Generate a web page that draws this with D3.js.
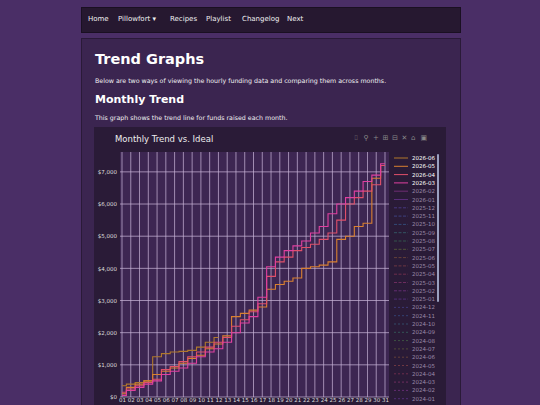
<!DOCTYPE html>
<html><head><meta charset="utf-8">
<script src="https://cdn.jsdelivr.net/npm/d3@7"></script>
<style>
body{margin:0;background:#4a2e66;font-family:"DejaVu Sans",sans-serif;color:#f0f0f0;width:540px;height:405px;overflow:hidden;position:relative}
.nav{position:absolute;left:81px;top:7px;width:378px;height:24px;background:#261830;border:1px solid #1a1022;font-size:7px;color:#f0f0f0}
.nav span{position:absolute;top:7px}
.panel{position:absolute;left:81px;top:38px;width:378px;height:380px;background:#3b2550;border:1px solid #2a1a38}
h1{position:absolute;left:13px;top:12px;margin:0;font-size:14.5px;font-weight:bold;color:#fff}
h2{position:absolute;left:13px;top:54px;margin:0;font-size:11px;font-weight:bold;color:#fff}
p{position:absolute;left:13px;margin:0;font-size:6.3px;color:#f0f0f0}
</style></head><body>
<div class="nav"><span style="left:6px">Home</span><span style="left:36px">Pillowfort ▾</span><span style="left:88px">Recipes</span><span style="left:124px">Playlist</span><span style="left:160px">Changelog</span><span style="left:205px">Next</span></div>
<div class="panel"><h1>Trend Graphs</h1><p style="top:38px">Below are two ways of viewing the hourly funding data and comparing them across months.</p><h2>Monthly Trend</h2><p style="top:75px">This graph shows the trend line for funds raised each month.</p></div>
<svg id="c" width="540" height="405" style="position:absolute;left:0;top:0"></svg>
<script>
const days=d3.range(1,32).map(d=>String(d).padStart(2,"0"));
const yTicks=[0,1000,2000,3000,4000,5000,6000,7000];
const s202606=[350,400,450,500,1250,1350,1400,1420,1450,1550,1700,1850];
const s202605=[100,300,400,500,700,800,900,1050,1200,1300,1500,1650,1900,2500,2600,2700,2800,3350,3500,3600,3700,4000,4050,4100,4200,4900,5000,5300,5400,6800,7200];
const s202604=[150,250,350,450,550,850,950,1100,1250,1400,1550,1700,1850,2200,2400,2650,2900,3750,4200,4350,4550,4650,4750,4900,5100,5500,6000,6200,6400,6600,7200];
const s202603=[50,200,300,400,500,700,800,900,1050,1250,1400,1500,1700,2000,2300,2500,3100,4050,4350,4550,4700,4850,5100,5300,5700,6000,6200,6400,6700,6900,7250];
const legendNames=["2026-06","2026-05","2026-04","2026-03","2026-02","2026-01","2025-12","2025-11","2025-10","2025-09","2025-08","2025-07","2025-06","2025-05","2025-04","2025-03","2025-02","2025-01","2024-12","2024-11","2024-10","2024-09","2024-08","2024-07","2024-06","2024-05","2024-04","2024-03","2024-02","2024-01"];
const legendColors=["#b0782c","#d98030","#e0506a","#e040a0","#9a3a9a","#7a3aa8","#5a4ab0","#4a5ab0","#3a6aa0","#3a7a80","#3a7a5a","#6a7a3a","#8a5a3a","#9a4a4a","#9a3a5a","#9a3a7a","#8a3a9a","#6a3aa0","#4a4aa0","#3a5a9a","#3a6a8a","#3a7a6a","#4a7a4a","#6a6a3a","#8a5a3a","#9a4a4a","#9a3a5a","#9a3a7a","#8a3a9a","#6a3aa0"];
const series=[{n:"2026-06",v:s202606,c:"#b0782c"},{n:"2026-05",v:s202605,c:"#d98030"},{n:"2026-04",v:s202604,c:"#e0506a"},{n:"2026-03",v:s202603,c:"#e040a0"}];

const svg=d3.select("#c");
svg.append("rect").attr("x",94).attr("y",127).attr("width",352).attr("height",278).attr("fill","#2a1b37");
svg.append("text").attr("x",115).attr("y",142).attr("fill","#eee").attr("font-size",8.5).text("Monthly Trend vs. Ideal");
const x=d3.scalePoint().domain(days).range([122,385]);
const y=d3.scaleLinear().domain([0,7400]).range([397,159]);
svg.append("rect").attr("x",120).attr("y",152).attr("width",269).attr("height",245).attr("fill","#3d2652");
const g=svg.append("g");
g.selectAll(".vg").data(days).join("line").attr("x1",d=>x(d)).attr("x2",d=>x(d)).attr("y1",152).attr("y2",397).attr("stroke","#c8b4d8").attr("stroke-width",0.9).attr("opacity",0.8);
g.selectAll(".hg").data(yTicks).join("line").attr("x1",120).attr("x2",389).attr("y1",d=>y(d)).attr("y2",d=>y(d)).attr("stroke","#c8b4d8").attr("stroke-width",0.9).attr("opacity",0.8);
const ya=svg.append("g").attr("transform","translate(120,0)").call(d3.axisLeft(y).tickValues(yTicks).tickSize(0).tickPadding(3).tickFormat(d=>"$"+d3.format(",")(d)));
ya.select(".domain").remove();ya.selectAll("text").attr("fill","#ddd").attr("font-size",5.5).attr("font-family","DejaVu Sans");
const xa=svg.append("g").attr("transform","translate(0,397)").call(d3.axisBottom(x).tickSize(0).tickPadding(1.5));
xa.select(".domain").remove();xa.selectAll("text").attr("fill","#ddd").attr("font-size",5.5).attr("font-family","DejaVu Sans");
const line=d3.line().x((d,i)=>x(days[i])).y(d=>y(d)).curve(d3.curveStep);
series.forEach(s=>svg.append("path").attr("d",line(s.v)).attr("fill","none").attr("stroke",s.c).attr("stroke-width",1.1));
const lg=svg.append("g");
legendNames.forEach((n,i)=>{const yy=158+i*8.3;
 const dash=n.startsWith("2026")?null:(n.startsWith("2025")?"3,1.5":"2,2");
 lg.append("line").attr("x1",394).attr("x2",408).attr("y1",yy).attr("y2",yy).attr("stroke",legendColors[i]).attr("stroke-width",1).attr("stroke-dasharray",dash).attr("opacity",i<4?1:0.6);
 lg.append("text").attr("x",412).attr("y",yy+2).attr("font-size",5.5).attr("fill",i<4?"#fff":"#9a8aa8").text(n);});
svg.append("rect").attr("x",437).attr("y",154).attr("width",2).attr("height",148).attr("rx",1).attr("fill","#9aa0c0");
const icons=["⌷","⚲","+","⊞","⊟","✕","⌂","▣"];
icons.forEach((t,i)=>svg.append("text").attr("x",354+i*9.5).attr("y",140).attr("font-size",7).attr("fill","#888").text(t));
</script></body></html>
